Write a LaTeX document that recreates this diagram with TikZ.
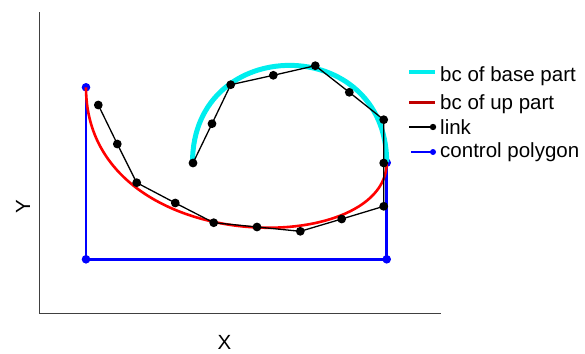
\documentclass[tikz,border=0pt]{standalone}
\usepackage{fontspec}
\setmainfont{Liberation Sans}
\definecolor{cyanc}{RGB}{0,238,238}
\definecolor{legred}{RGB}{192,0,0}
\definecolor{bluec}{RGB}{0,0,255}
\tikzset{
  axisline/.style={draw=black!75, line width=0.9pt},
  polyline/.style={draw=bluec, line width=2.6pt},
  basecurve/.style={draw=cyanc, line width=5pt},
  upcurve/.style={draw=red, line width=2.6pt},
  linkline/.style={draw=black, line width=1.3pt},
  bdot/.style={fill=black},
  pdot/.style={fill=bluec},
  lab/.style={font=\fontsize{20.5pt}{22pt}\selectfont, inner sep=0pt},
}
\begin{document}
\begin{tikzpicture}[x=1pt,y=-1pt]
\useasboundingbox (0,0) rectangle (585,353);
% axes
\coordinate (atop) at (39.3,12.5);
\coordinate (aorig) at (39.3,313.3);
\coordinate (aright) at (440.5,313.3);
\draw[axisline] (atop) -- (aorig) -- (aright);
\node[lab, anchor=center] (xlab) at (224.5,342.5) {X};
\node[lab, anchor=center, rotate=90] (ylab) at (23,207) {Y};
% control polygon
\coordinate (c1) at (86,87.3);
\coordinate (c2) at (86,259.3);
\coordinate (c3) at (386.7,259.3);
\coordinate (c4) at (386.7,162.7);
\draw[polyline] (c1) -- (c2) -- (c3) -- (c4);
\foreach \p in {c1,c2,c3,c4} \fill[pdot] (\p) circle (4.3);
% base curve (cyan)
\coordinate (b0) at (192.5,162.5);
\coordinate (b3) at (386.7,162.5);
\draw[basecurve] (b0) .. controls (192.5,33) and (386.7,33) .. (b3);
% up curve (red)
\draw[upcurve] (c1) .. controls (c2) and (c3) .. (c4);
% link
\coordinate (l1) at (98.3,105);
\coordinate (l2) at (117.3,144);
\coordinate (l3) at (136.7,182.7);
\coordinate (l4) at (175.3,203);
\coordinate (l5) at (213.7,222.7);
\coordinate (l6) at (257,227);
\coordinate (l7) at (300.3,231.3);
\coordinate (l8) at (341.7,219);
\coordinate (l9) at (383.7,206.3);
\coordinate (l10) at (383.7,163);
\coordinate (l11) at (383.7,119.7);
\coordinate (l12) at (349.3,92.3);
\coordinate (l13) at (315.3,65.7);
\coordinate (l14) at (273.3,75.3);
\coordinate (l15) at (230.7,84.7);
\coordinate (l16) at (212,123.7);
\coordinate (l17) at (193,163);
\draw[linkline] (l1) -- (l2) -- (l3) -- (l4) -- (l5) -- (l6) -- (l7) -- (l8) -- (l9)
  -- (l10) -- (l11) -- (l12) -- (l13) -- (l14) -- (l15) -- (l16) -- (l17);
\foreach \p in {l1,l2,l3,l4,l5,l6,l7,l8,l9,l10,l11,l12,l13,l14,l15,l16,l17}
  \fill[bdot] (\p) circle (4.4);
% legend
\coordinate (g1a) at (409,72);
\coordinate (g1b) at (435,72);
\draw[draw=cyanc, line width=3.2pt] (g1a) -- (g1b);
\node[lab, anchor=base west] (t1) at (440,81) {bc of base part};
\coordinate (g2a) at (409,102);
\coordinate (g2b) at (435,102);
\draw[draw=legred, line width=3pt] (g2a) -- (g2b);
\node[lab, anchor=base west] (t2) at (440,109) {bc of up part};
\coordinate (g3a) at (409,127);
\coordinate (g3b) at (433,127);
\draw[draw=black, line width=2.6pt] (g3a) -- (g3b);
\fill[black] (g3b) circle (3.2);
\node[lab, anchor=base west] (t3) at (440,134) {link};
\coordinate (g4a) at (411,152);
\coordinate (g4b) at (433,152);
\draw[draw=bluec, line width=2.4pt] (g4a) -- (g4b);
\fill[bluec] (g4b) circle (3);
\node[lab, anchor=base west] (t4) at (440,157.5) {control polygon};
\end{tikzpicture}
\end{document}
